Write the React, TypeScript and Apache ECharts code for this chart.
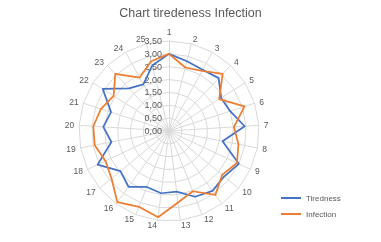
import React, { useEffect, useRef } from 'react';
import * as echarts from 'echarts';

const categories = ['1','2','3','4','5','6','7','8','9','10','11','12','13','14','15','16','17','18','19','20','21','22','23','24','25'];
const tiredness = [3.0, 2.8, 2.72, 2.82, 2.4, 2.5, 2.95, 2.12, 3.0, 2.78, 2.88, 2.75, 2.38, 2.44, 2.34, 2.68, 2.45, 3.07, 2.28, 2.56, 2.37, 3.05, 2.27, 2.07, 2.63];
const infection = [3.0, 2.55, 2.67, 3.05, 2.31, 3.09, 2.53, 2.75, 2.92, 2.68, 3.07, 2.52, 2.8, 3.38, 3.17, 3.42, 2.9, 2.73, 2.94, 2.95, 2.78, 2.55, 3.05, 2.37, 2.8];
const axisMin = 0;
const axisMax = 3.5;
const axisStep = 0.5;
const seriesNames = ['Tiredness', 'Infection'];
const colors = ['#4472C4', '#ED7D31'];

const FONT = 'Liberation Sans, Arial, sans-serif';
const GRAY = '#595959';

// ECharts radar runs counter-clockwise; Excel runs clockwise -> reorder
const order = [0, ...categories.slice(1).map((_, i) => categories.length - 1 - i)];

export default function App() {
  const ref = useRef<HTMLDivElement>(null);
  useEffect(() => {
    if (!ref.current) return;
    const chart = echarts.init(ref.current, undefined, { renderer: 'svg' });
    const fmt = (v: number) => v.toFixed(2).replace('.', ',');
    const indicator = order.map((idx, k) => {
      const base: any = { name: categories[idx], min: axisMin, max: axisMax, interval: axisStep };
      if (k === 0) {
        base.axisLabel = {
          show: true,
          fontSize: 9,
          color: GRAY,
          fontFamily: FONT,
          margin: 7,
          formatter: fmt,
        };
      }
      return base;
    });
    const dataSets = [tiredness, infection];
    chart.setOption({
      animation: false,
      title: {
        text: 'Chart tiredeness Infection',
        left: 'center',
        top: 1,
        textStyle: { fontSize: 12.5, fontWeight: 'normal', color: GRAY, fontFamily: FONT },
      },
      legend: {
        data: seriesNames,
        orient: 'vertical',
        left: 276,
        top: 189,
        itemWidth: 20,
        itemHeight: 2,
        itemGap: 8,
        icon: 'rect',
        textStyle: { fontSize: 8, color: GRAY, fontFamily: FONT },
      },
      radar: {
        center: [169, 131],
        radius: 90,
        startAngle: 90,
        shape: 'polygon',
        splitNumber: 7,
        indicator,
        axisName: { color: GRAY, fontSize: 8.5, fontFamily: FONT },
        nameGap: 5,
        axisLabel: { show: false },
        axisLine: { lineStyle: { color: '#D9D9D9', width: 1 } },
        splitLine: { lineStyle: { color: '#D9D9D9', width: 1 } },
        splitArea: { show: false },
        axisTick: { show: false },
      },
      series: seriesNames.map((name, s) => ({
        type: 'radar',
        name,
        symbol: 'none',
        lineStyle: { color: colors[s], width: 1.75 },
        itemStyle: { color: colors[s] },
        data: [{ name, value: order.map((i) => dataSets[s][i]) }],
      })),
    });
    return () => chart.dispose();
  }, []);
  return <div ref={ref} style={{ position: 'fixed', left: 0, top: 0, width: 381, height: 242 }} />;
}
